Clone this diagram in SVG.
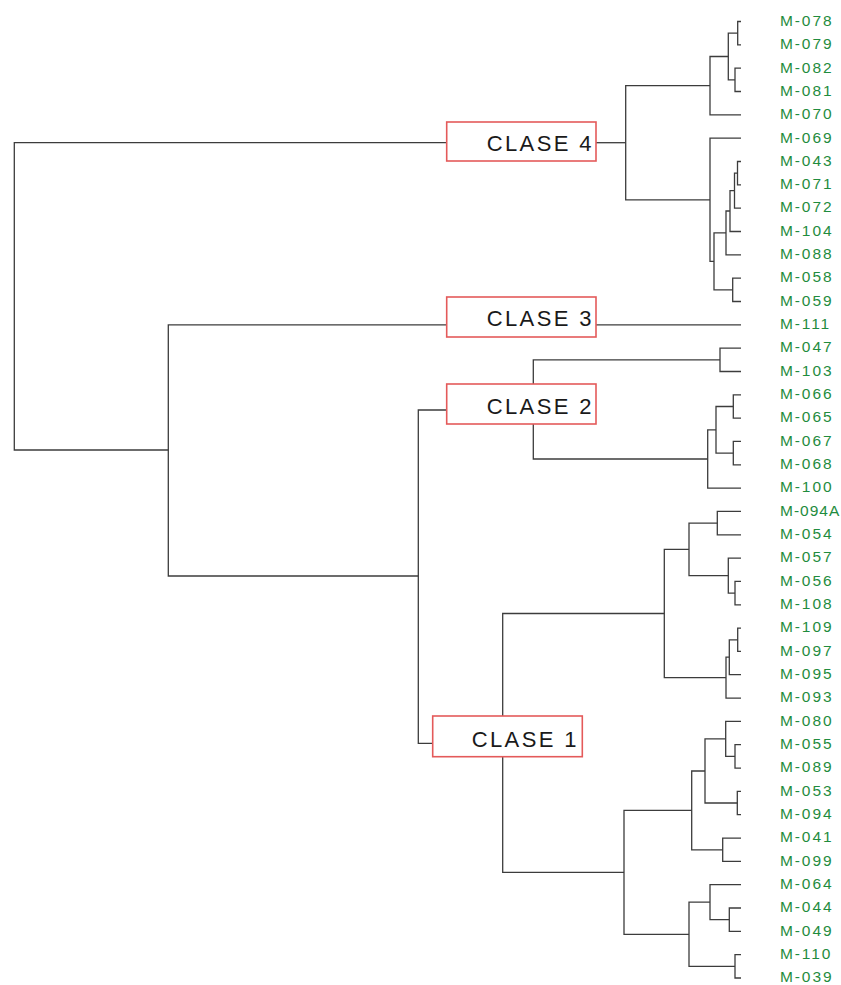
<svg xmlns="http://www.w3.org/2000/svg" width="841" height="985" viewBox="0 0 841 985">
<style>
.ln{fill:none;stroke:#3c3c3c;stroke-width:1.3}
.box{fill:#ffffff;stroke:#e45a5a;stroke-width:1.6}
.cl{font-family:"Liberation Sans",Arial,sans-serif;font-size:22px;letter-spacing:2.4px;fill:#1a1a1a}
.lf{font-family:"Liberation Sans",Arial,sans-serif;font-size:15.5px;letter-spacing:1.9px;fill:#1f8c3e}
</style>
<rect width="841" height="985" fill="#ffffff"/>
<g id="connectors" class="ln">
<path d="M446.7 142.7 H14.3 V450 H168.3"/>
<path d="M446.7 324.8 H168.3 V576 H418.3"/>
<path d="M446.7 410 H418.3 V743.3 H432.7"/>
<path d="M596 142.7 H625.7"/>
<path d="M710 85.7 H625.7 V199.8 H710"/>
<path d="M741 21.5 H737.7 V44.8 H741"/>
<path d="M741 68.2 H735 V91.5 H741"/>
<path d="M737.7 33.2 H728.3 V79.9 H735"/>
<path d="M728.3 56.5 H710 V114.8 H741"/>
<path d="M741 161.5 H737.5 V184.8 H741"/>
<path d="M737.5 173.2 H734.5 V208.1 H741"/>
<path d="M734.5 190.6 H730 V231.5 H741"/>
<path d="M730 211 H726 V254.8 H741"/>
<path d="M741 278.1 H732.7 V301.5 H741"/>
<path d="M726 232.9 H714 V289.8 H732.7"/>
<path d="M741 138.2 H710 V261.4 H714"/>
<path d="M596 324.8 H741"/>
<path d="M741 348.1 H720 V371.5 H741"/>
<path d="M741 394.8 H733.3 V418.1 H741"/>
<path d="M741 441.4 H733.3 V464.8 H741"/>
<path d="M733.3 406.5 H716 V453.1 H733.3"/>
<path d="M716 429.8 H707.7 V488.1 H741"/>
<path d="M720 359.8 H533.3 V459 H707.7"/>
<path d="M741 511.4 H717.3 V534.8 H741"/>
<path d="M741 581.4 H735 V604.8 H741"/>
<path d="M741 558.1 H728.3 V593.1 H735"/>
<path d="M717.3 523.1 H689 V575.6 H728.3"/>
<path d="M741 628.1 H737.7 V651.4 H741"/>
<path d="M737.7 639.8 H729.3 V674.7 H741"/>
<path d="M729.3 657.2 H726 V698.1 H741"/>
<path d="M689 549.4 H664.3 V677.7 H726"/>
<path d="M741 744.7 H735 V768.1 H741"/>
<path d="M741 721.4 H725.7 V756.4 H735"/>
<path d="M741 791.4 H737.3 V814.7 H741"/>
<path d="M725.7 738.9 H705 V803 H737.3"/>
<path d="M741 838.1 H722.7 V861.4 H741"/>
<path d="M705 771 H691.7 V849.8 H722.7"/>
<path d="M741 908 H729.3 V931.4 H741"/>
<path d="M741 884.7 H710 V919.7 H729.3"/>
<path d="M741 954.7 H735 V978 H741"/>
<path d="M710 902.2 H689 V966.3 H735"/>
<path d="M691.7 810.4 H624 V934.3 H689"/>
<path d="M664.3 613.5 H502.7 V872.3 H624"/>
</g>
<g id="clase4"><rect class="box" x="446.7" y="122" width="149.3" height="39"/><text class="cl" x="486.7" y="151">CLASE 4</text></g>
<g id="clase3"><rect class="box" x="446.7" y="297" width="149.3" height="40"/><text class="cl" x="486.7" y="325.7">CLASE 3</text></g>
<g id="clase2"><rect class="box" x="446.7" y="384" width="149.3" height="40"/><text class="cl" x="486.7" y="414.3">CLASE 2</text></g>
<g id="clase1"><rect class="box" x="432.7" y="716" width="149.6" height="40.7"/><text class="cl" x="471.7" y="747.3">CLASE 1</text></g>
<g id="leaves" class="lf">
<g id="leaf-M-078"><text x="780" y="25.5">M-078</text></g>
<g id="leaf-M-079"><text x="780" y="49.1">M-079</text></g>
<g id="leaf-M-082"><text x="780" y="72.5">M-082</text></g>
<g id="leaf-M-081"><text x="780" y="95.8">M-081</text></g>
<g id="leaf-M-070"><text x="780" y="119.1">M-070</text></g>
<g id="leaf-M-069"><text x="780" y="142.5">M-069</text></g>
<g id="leaf-M-043"><text x="780" y="165.8">M-043</text></g>
<g id="leaf-M-071"><text x="780" y="189.1">M-071</text></g>
<g id="leaf-M-072"><text x="780" y="212.4">M-072</text></g>
<g id="leaf-M-104"><text x="780" y="235.8">M-104</text></g>
<g id="leaf-M-088"><text x="780" y="259.1">M-088</text></g>
<g id="leaf-M-058"><text x="780" y="282.4">M-058</text></g>
<g id="leaf-M-059"><text x="780" y="305.8">M-059</text></g>
<g id="leaf-M-111"><text x="780" y="329.1">M-111</text></g>
<g id="leaf-M-047"><text x="780" y="352.4">M-047</text></g>
<g id="leaf-M-103"><text x="780" y="375.8">M-103</text></g>
<g id="leaf-M-066"><text x="780" y="399.1">M-066</text></g>
<g id="leaf-M-065"><text x="780" y="422.4">M-065</text></g>
<g id="leaf-M-067"><text x="780" y="445.7">M-067</text></g>
<g id="leaf-M-068"><text x="780" y="469.1">M-068</text></g>
<g id="leaf-M-100"><text x="780" y="492.4">M-100</text></g>
<g id="leaf-M-094A"><text x="780" y="515.7" style="letter-spacing:1px">M-094A</text></g>
<g id="leaf-M-054"><text x="780" y="539.1">M-054</text></g>
<g id="leaf-M-057"><text x="780" y="562.4">M-057</text></g>
<g id="leaf-M-056"><text x="780" y="585.7">M-056</text></g>
<g id="leaf-M-108"><text x="780" y="609.1">M-108</text></g>
<g id="leaf-M-109"><text x="780" y="632.4">M-109</text></g>
<g id="leaf-M-097"><text x="780" y="655.7">M-097</text></g>
<g id="leaf-M-095"><text x="780" y="679">M-095</text></g>
<g id="leaf-M-093"><text x="780" y="702.4">M-093</text></g>
<g id="leaf-M-080"><text x="780" y="725.7">M-080</text></g>
<g id="leaf-M-055"><text x="780" y="749">M-055</text></g>
<g id="leaf-M-089"><text x="780" y="772.4">M-089</text></g>
<g id="leaf-M-053"><text x="780" y="795.7">M-053</text></g>
<g id="leaf-M-094"><text x="780" y="819">M-094</text></g>
<g id="leaf-M-041"><text x="780" y="842.4">M-041</text></g>
<g id="leaf-M-099"><text x="780" y="865.7">M-099</text></g>
<g id="leaf-M-064"><text x="780" y="889">M-064</text></g>
<g id="leaf-M-044"><text x="780" y="912.3">M-044</text></g>
<g id="leaf-M-049"><text x="780" y="935.7">M-049</text></g>
<g id="leaf-M-110"><text x="780" y="959">M-110</text></g>
<g id="leaf-M-039"><text x="780" y="982.3">M-039</text></g>
</g>
</svg>
